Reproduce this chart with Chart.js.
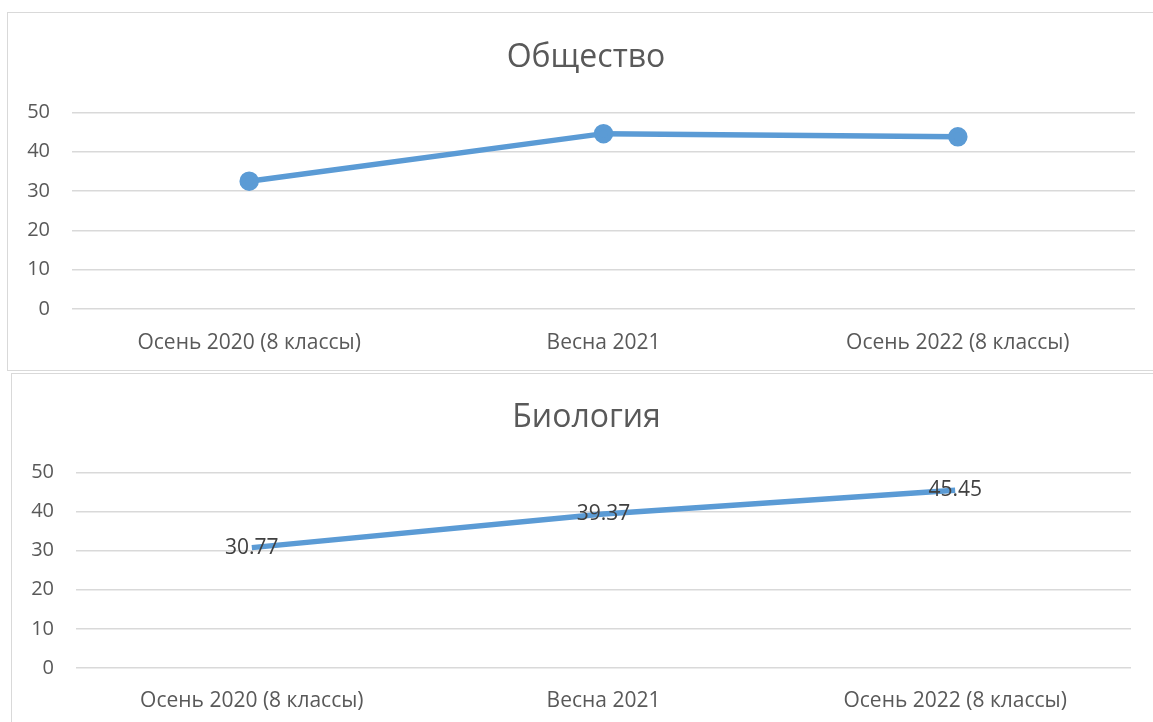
<!DOCTYPE html>
<html>
<head>
<meta charset="utf-8">
<script src="https://cdn.jsdelivr.net/npm/chart.js@4"></script>
<style>
  body { margin: 0; background: #fff; width: 1153px; height: 722px; overflow: hidden; position: relative; }
  .box { position: absolute; border: 1px solid #d9d9d9; background: #fff; }
  #box1 { left: 7px; top: 12px; width: 1160px; height: 357px; }
  #box2 { left: 11px; top: 373px; width: 1160px; height: 360px; }
  canvas { position: absolute; left: 0; top: 0; }
</style>
</head>
<body>
<div class="box" id="box1"><canvas id="chart1" width="1160" height="357"></canvas></div>
<div class="box" id="box2"><canvas id="chart2" width="1160" height="348"></canvas></div>
<script>
const categories = ['Осень 2020 (8 классы)', 'Весна 2021', 'Осень 2022 (8 классы)']
const societyValues = [32.5, 44.6, 43.8]
const biologyValues = [30.77, 39.37, 45.45]
const yTicks = [0, 10, 20, 30, 40, 50]

const fontFamily = "'Open Sans', 'Noto Sans', sans-serif"
const lineColor = '#5b9bd5'

// data labels on the points, centered
const pointLabels = {
    id: 'pointLabels',
    afterDatasetsDraw(chart, args, opts) {
        if (!opts.show) return
        const ctx = chart.ctx
        const meta = chart.getDatasetMeta(0)
        ctx.save()
        ctx.font = '21px ' + fontFamily
        ctx.fillStyle = '#404040'
        ctx.textAlign = 'center'
        ctx.textBaseline = 'middle'
        meta.data.forEach((pt, i) => {
            ctx.fillText(chart.data.datasets[0].data[i].toFixed(2), pt.x, pt.y)
        })
        ctx.restore()
    }
}

function makeChart(id, title, values, withMarkers, showLabels, lay) {
    return new Chart(document.getElementById(id), {
        type: 'line',
        data: {
            labels: categories,
            datasets: [{
                data: values,
                borderColor: lineColor,
                backgroundColor: lineColor,
                borderWidth: 5.5,
                pointRadius: withMarkers ? 7 : 0,
                pointHoverRadius: withMarkers ? 7 : 0,
                tension: 0
            }]
        },
        options: {
            responsive: false,
            animation: false,
            layout: { padding: { top: lay.top, right: lay.right, bottom: lay.bottom, left: 0 } },
            plugins: {
                legend: { display: false },
                tooltip: { enabled: false },
                title: {
                    display: true,
                    text: title,
                    color: '#595959',
                    font: { family: fontFamily, size: 32, weight: 'normal', lineHeight: 1.2 },
                    padding: { top: 0, bottom: lay.titleGap }
                },
                pointLabels: { show: showLabels }
            },
            scales: {
                x: {
                    offset: true,
                    afterFit: s => { s.height = lay.xHeight },
                    grid: { display: false, drawTicks: false },
                    border: { display: false },
                    ticks: { color: '#595959', font: { family: fontFamily, size: 21 }, padding: lay.xPad, maxRotation: 0 }
                },
                y: {
                    min: 0,
                    max: 50,
                    afterBuildTicks: s => { s.ticks = yTicks.map(v => ({ value: v })) },
                    afterFit: s => { s.width = 64 },
                    grid: { color: '#d9d9d9', lineWidth: 1.5, drawTicks: false },
                    border: { display: false },
                    ticks: { color: '#595959', font: { family: fontFamily, size: 20 }, padding: 22 }
                },
                // empty strip on the right: the original box runs past the page edge,
                // so its title sits a bit right of the plot centre
                spacer: {
                    position: 'right',
                    afterFit: s => { s.width = lay.spacer },
                    grid: { display: false, drawTicks: false },
                    border: { display: false },
                    ticks: { display: false }
                }
            }
        },
        plugins: [pointLabels]
    })
}

makeChart('chart1', 'Общество', societyValues, true, false,
    { top: 26, right: 4, bottom: 15, spacer: 29, titleGap: 35, xHeight: 46, xPad: 21 })
makeChart('chart2', 'Биология', biologyValues, false, true,
    { top: 25, right: 11, bottom: 10, spacer: 30, titleGap: 35, xHeight: 44, xPad: 20 })
</script>
</body>
</html>
